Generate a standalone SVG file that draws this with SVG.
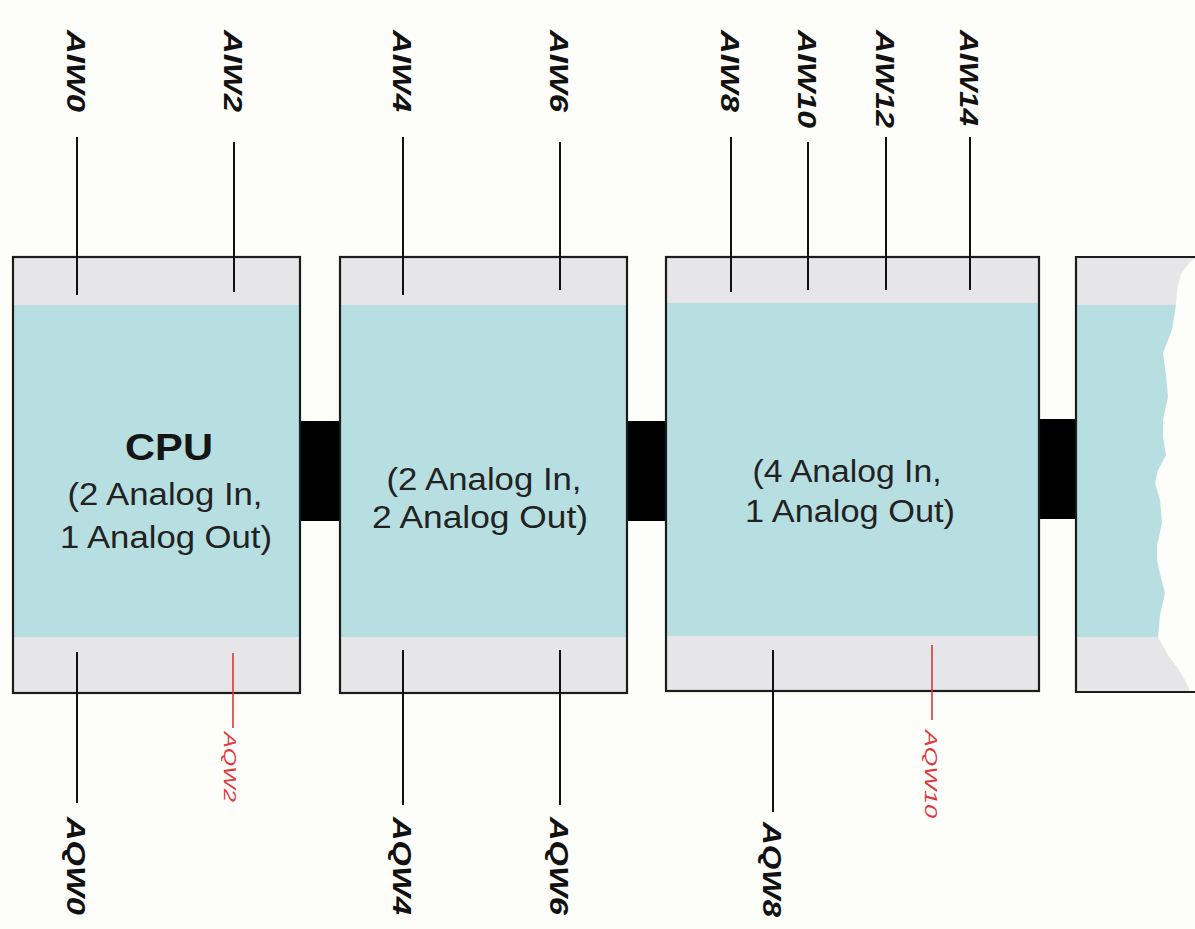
<svg xmlns="http://www.w3.org/2000/svg" width="1195" height="929" viewBox="0 0 1195 929">
  <style>
    .band { fill: #e6e6e8; }
    .body { fill: #b7dfe1; }
    .frame { fill: none; stroke: #1c1c1c; stroke-width: 2.2; }
    .bus { fill: #000; }
    .lead { stroke: #111; stroke-width: 2; }
    .lead-red { stroke: #d23a3e; stroke-width: 1.6; }
    .addr { font-family: "Liberation Sans", Arial, sans-serif; font-weight: bold; font-style: italic; font-size: 25px; fill: #111; }
    .addr-red { font-family: "Liberation Sans", Arial, sans-serif; font-style: italic; font-size: 16px; fill: #e0363c; }
    .title { font-family: "Liberation Sans", Arial, sans-serif; font-weight: bold; font-size: 37px; fill: #151515; text-anchor: middle; }
    .desc { font-family: "Liberation Sans", Arial, sans-serif; font-size: 31px; fill: #222; text-anchor: middle; }
  </style>

  <rect x="0" y="0" width="1195" height="929" fill="#fdfdf9"/>

  <!-- expansion bus links between modules -->
  <g id="connectors">
    <rect class="bus" x="300" y="421" width="40" height="100"/>
    <rect class="bus" x="627" y="421" width="39" height="100"/>
    <rect class="bus" x="1039" y="419" width="37" height="100"/>
  </g>

  <!-- CPU module -->
  <g id="module-cpu">
    <rect class="band" x="13" y="257" width="287" height="436"/>
    <rect class="body" x="13" y="305" width="287" height="332"/>
    <rect class="frame" x="13" y="257" width="287" height="436"/>
    <text class="title" x="169" y="460" textLength="88" lengthAdjust="spacingAndGlyphs">CPU</text>
    <text class="desc" x="165" y="505" textLength="195" lengthAdjust="spacingAndGlyphs">(2 Analog In,</text>
    <text class="desc" x="166" y="548" textLength="212" lengthAdjust="spacingAndGlyphs">1 Analog Out)</text>
  </g>

  <!-- first expansion module -->
  <g id="module-em1">
    <rect class="band" x="340" y="257" width="287" height="436"/>
    <rect class="body" x="340" y="305" width="287" height="332"/>
    <rect class="frame" x="340" y="257" width="287" height="436"/>
    <text class="desc" x="484" y="490" textLength="195" lengthAdjust="spacingAndGlyphs">(2 Analog In,</text>
    <text class="desc" x="480" y="528" textLength="216" lengthAdjust="spacingAndGlyphs">2 Analog Out)</text>
  </g>

  <!-- second expansion module -->
  <g id="module-em2">
    <rect class="band" x="666" y="257" width="373" height="434"/>
    <rect class="body" x="666" y="303" width="373" height="333"/>
    <rect class="frame" x="666" y="257" width="373" height="434"/>
    <text class="desc" x="847" y="482" textLength="189" lengthAdjust="spacingAndGlyphs">(4 Analog In,</text>
    <text class="desc" x="850" y="522" textLength="210" lengthAdjust="spacingAndGlyphs">1 Analog Out)</text>
  </g>

  <!-- following module, cut off at the right -->
  <g id="module-next">
    <rect class="band" x="1076" y="257" width="130" height="435"/>
    <rect class="body" x="1076" y="305" width="130" height="332"/>
    <polygon fill="#fdfdf9" points="1196,258 1190,262 1181,274 1177,290 1176,305 1172,330 1163,353 1166,375 1168,397 1163,420 1163,437 1166,455 1158,470 1155,483 1160,500 1162,523 1157,545 1157,560 1161,578 1165,593 1160,615 1158,637 1168,655 1177,667 1185,680 1190,691 1196,691"/>
    <path class="frame" d="M1200,257 H1076 V692 H1200"/>
  </g>

  <!-- analog input words -->
  <g id="inputs">
    <line class="lead" x1="77" y1="137" x2="77" y2="295"/>
    <line class="lead" x1="234" y1="142" x2="234" y2="292"/>
    <line class="lead" x1="403" y1="137" x2="403" y2="295"/>
    <line class="lead" x1="560" y1="142" x2="560" y2="290"/>
    <line class="lead" x1="731" y1="137" x2="731" y2="292"/>
    <line class="lead" x1="808" y1="142" x2="808" y2="290"/>
    <line class="lead" x1="886" y1="137" x2="886" y2="290"/>
    <line class="lead" x1="970" y1="137" x2="970" y2="290"/>
    <text class="addr" transform="translate(67,30) rotate(90)" textLength="82" lengthAdjust="spacingAndGlyphs">AIW0</text>
    <text class="addr" transform="translate(224,30) rotate(90)" textLength="82" lengthAdjust="spacingAndGlyphs">AIW2</text>
    <text class="addr" transform="translate(393,30) rotate(90)" textLength="82" lengthAdjust="spacingAndGlyphs">AIW4</text>
    <text class="addr" transform="translate(550,30) rotate(90)" textLength="82" lengthAdjust="spacingAndGlyphs">AIW6</text>
    <text class="addr" transform="translate(721,30) rotate(90)" textLength="82" lengthAdjust="spacingAndGlyphs">AIW8</text>
    <text class="addr" transform="translate(798,30) rotate(90)" textLength="98" lengthAdjust="spacingAndGlyphs">AIW10</text>
    <text class="addr" transform="translate(876,30) rotate(90)" textLength="98" lengthAdjust="spacingAndGlyphs">AIW12</text>
    <text class="addr" transform="translate(960,30) rotate(90)" textLength="96" lengthAdjust="spacingAndGlyphs">AIW14</text>
  </g>

  <!-- analog output words -->
  <g id="outputs">
    <line class="lead" x1="77" y1="652" x2="77" y2="803"/>
    <line class="lead" x1="403" y1="650" x2="403" y2="805"/>
    <line class="lead" x1="560" y1="650" x2="560" y2="805"/>
    <line class="lead" x1="773" y1="650" x2="773" y2="812"/>
    <text class="addr" transform="translate(67,817) rotate(90)" textLength="98" lengthAdjust="spacingAndGlyphs">AQW0</text>
    <text class="addr" transform="translate(393,817) rotate(90)" textLength="98" lengthAdjust="spacingAndGlyphs">AQW4</text>
    <text class="addr" transform="translate(550,817) rotate(90)" textLength="98" lengthAdjust="spacingAndGlyphs">AQW6</text>
    <text class="addr" transform="translate(763,822) rotate(90)" textLength="95" lengthAdjust="spacingAndGlyphs">AQW8</text>
  </g>

  <!-- unused output words -->
  <g id="reserved-outputs">
    <line class="lead-red" x1="233" y1="653" x2="233" y2="728"/>
    <line class="lead-red" x1="932" y1="645" x2="932" y2="720"/>
    <text class="addr-red" transform="translate(224,732) rotate(90)" textLength="70" lengthAdjust="spacingAndGlyphs">AQW2</text>
    <text class="addr-red" transform="translate(925,730) rotate(90)" textLength="88" lengthAdjust="spacingAndGlyphs">AQW10</text>
  </g>
</svg>
